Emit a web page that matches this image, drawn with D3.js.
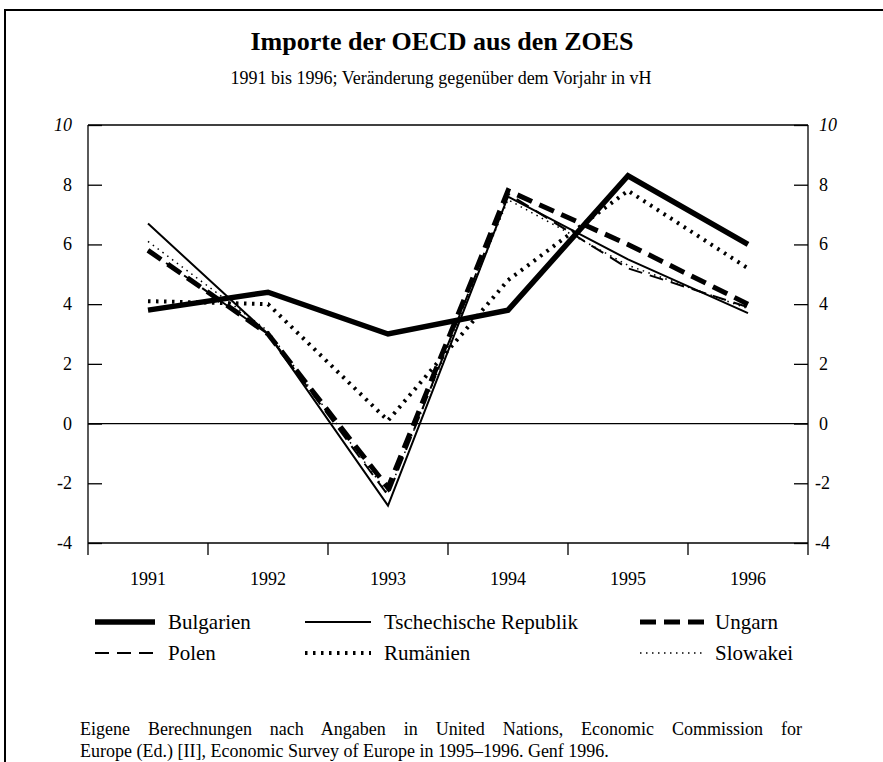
<!DOCTYPE html>
<html lang="de">
<head>
  <meta charset="UTF-8">
  <title>Importe der OECD aus den ZOES</title>
  <script src="https://d3js.org/d3.v7.min.js"></script>
  <style>
    body { margin: 0; background: #fff; }
    svg text { font-family: "Liberation Serif", "Times New Roman", "DejaVu Serif", serif; fill: #000; }
    .axis path, .axis line { stroke: #000; stroke-width: 1.3; }
    .series { fill: none; stroke: #000; }
  </style>
</head>
<body>
  <svg id="chart" width="883" height="762"></svg>

  <script>
    // data
    const years = ["1991", "1992", "1993", "1994", "1995", "1996"];
    const bulgarien  = [3.8, 4.4, 3.0, 3.8, 8.3, 6.0];
    const tschechien = [6.7, 3.0, -2.75, 7.6, 5.5, 3.7];
    const ungarn     = [5.8, 3.0, -2.15, 7.8, 6.0, 4.0];
    const polen      = [5.8, 3.0, -2.4, 7.7, 5.2, 3.9];
    const rumaenien  = [4.1, 4.0, 0.1, 4.8, 7.8, 5.2];
    const slowakei   = [6.1, 3.1, -2.35, 7.5, 5.3, 3.85];
    const yTicks = [-4, -2, 0, 2, 4, 6, 8, 10];

    const series = [
      { name: "Bulgarien", values: bulgarien, width: 5.5, dash: null },
      { name: "Tschechische Republik", values: tschechien, width: 2, dash: null },
      { name: "Ungarn", values: ungarn, width: 5, dash: "16,8" },
      { name: "Polen", values: polen, width: 2, dash: "14,8" },
      { name: "Rumänien", values: rumaenien, width: 4, dash: "2.5,5.5" },
      { name: "Slowakei", values: slowakei, width: 1.5, dash: "1.5,4.5" }
    ];

    const svg = d3.select("#chart");

    // frame
    svg.append("path")
      .attr("d", "M5,762 L5,10 L883,10")
      .attr("fill", "none")
      .attr("stroke", "#000")
      .attr("stroke-width", 2);

    // title
    svg.append("text")
      .attr("x", 442).attr("y", 50)
      .attr("text-anchor", "middle")
      .style("font-size", "26px").style("font-weight", "bold")
      .text("Importe der OECD aus den ZOES");
    svg.append("text")
      .attr("x", 441).attr("y", 84)
      .attr("text-anchor", "middle")
      .style("font-size", "18px")
      .text("1991 bis 1996; Veränderung gegenüber dem Vorjahr in vH");

    const plotL = 88, plotR = 808, plotT = 125, plotB = 543;

    const x = d3.scaleBand().domain(years).range([plotL, plotR]);
    const y = d3.scaleLinear().domain([-4, 10]).range([plotB, plotT]);

    // plot box top line
    svg.append("line")
      .attr("x1", plotL).attr("x2", plotR)
      .attr("y1", plotT).attr("y2", plotT)
      .attr("stroke", "#000").attr("stroke-width", 1.3);

    // zero line
    svg.append("line")
      .attr("x1", plotL).attr("x2", plotR)
      .attr("y1", y(0)).attr("y2", y(0))
      .attr("stroke", "#000").attr("stroke-width", 1.3);

    // left axis (ticks pointing inward)
    const yl = svg.append("g").attr("class", "axis")
      .attr("transform", `translate(${plotL},0)`)
      .call(d3.axisRight(y).tickValues(yTicks).tickSize(14).tickFormat(""));
    yl.select(".domain").remove();
    yl.append("line").attr("x1", 0).attr("x2", 0).attr("y1", plotT).attr("y2", plotB + 12)
      .attr("stroke", "#000").attr("stroke-width", 1.3);

    const yr = svg.append("g").attr("class", "axis")
      .attr("transform", `translate(${plotR},0)`)
      .call(d3.axisLeft(y).tickValues(yTicks).tickSize(14).tickFormat(""));
    yr.select(".domain").remove();
    yr.append("line").attr("x1", 0).attr("x2", 0).attr("y1", plotT).attr("y2", plotB + 12)
      .attr("stroke", "#000").attr("stroke-width", 1.3);

    // tick labels
    svg.append("g").selectAll("text")
      .data(yTicks).join("text")
      .attr("x", 72).attr("y", d => y(d) + 6)
      .attr("text-anchor", "end")
      .style("font-size", "18px")
      .style("font-style", d => d === 10 ? "italic" : "normal")
      .text(d => d);
    svg.append("g").selectAll("text")
      .data(yTicks).join("text")
      .attr("x", d => d < 0 ? 815 : 819).attr("y", d => y(d) + 6)
      .attr("text-anchor", "start")
      .style("font-size", "18px")
      .style("font-style", d => d === 10 ? "italic" : "normal")
      .text(d => d);

    // x axis
    const xa = svg.append("g").attr("class", "axis")
      .attr("transform", `translate(0,${plotB})`);
    xa.append("line").attr("x1", plotL).attr("x2", plotR).attr("y1", 0).attr("y2", 0)
      .attr("stroke", "#000").attr("stroke-width", 1.3);
    xa.selectAll(".xt")
      .data(years.slice(1)).join("line")
      .attr("class", "xt")
      .attr("x1", d => x(d)).attr("x2", d => x(d))
      .attr("y1", 0).attr("y2", 12)
      .attr("stroke", "#000").attr("stroke-width", 1.3);
    xa.selectAll("text")
      .data(years).join("text")
      .attr("x", d => x(d) + x.bandwidth() / 2)
      .attr("y", 42)
      .attr("text-anchor", "middle")
      .style("font-size", "18px")
      .text(d => d);

    // lines
    const line = d3.line()
      .x((d, i) => x(years[i]) + x.bandwidth() / 2)
      .y(d => y(d));

    svg.append("g").selectAll("path")
      .data(series).join("path")
      .attr("class", "series")
      .attr("d", d => line(d.values))
      .attr("stroke-width", d => d.width)
      .attr("stroke-dasharray", d => d.dash)
      .attr("stroke-linejoin", "miter");

    // legend
    const legendPos = [
      { lx: 95, ly: 622 }, { lx: 305, ly: 622 }, { lx: 640, ly: 622 },
      { lx: 95, ly: 653 }, { lx: 305, ly: 653 }, { lx: 640, ly: 653 }
    ];
    const leg = svg.append("g").selectAll("g")
      .data(series).join("g")
      .attr("transform", (d, i) => `translate(${legendPos[i].lx},${legendPos[i].ly})`);
    leg.append("line")
      .attr("x1", 0).attr("x2", (d, i) => i % 3 === 0 ? 60 : 66)
      .attr("y1", 0).attr("y2", 0)
      .attr("stroke", "#000")
      .attr("stroke-width", d => d.width)
      .attr("stroke-dasharray", d => d.dash);
    leg.append("text")
      .attr("x", (d, i) => [73, 79, 75][i % 3])
      .attr("y", 7)
      .style("font-size", "21px")
      .text(d => d.name);

    // source note (first line justified)
    const note1 = svg.append("text")
      .attr("x", 80).attr("y", 735)
      .style("font-size", "18px")
      .text("Eigene Berechnungen nach Angaben in United Nations, Economic Commission for");
    const natural = note1.node().getComputedTextLength();
    const gaps = note1.text().split(" ").length - 1;
    note1.style("word-spacing", ((722 - natural) / gaps) + "px");
    svg.append("text")
      .attr("x", 80).attr("y", 757)
      .style("font-size", "18px")
      .text("Europe (Ed.) [II], Economic Survey of Europe in 1995–1996. Genf 1996.");
  </script>
</body>
</html>
